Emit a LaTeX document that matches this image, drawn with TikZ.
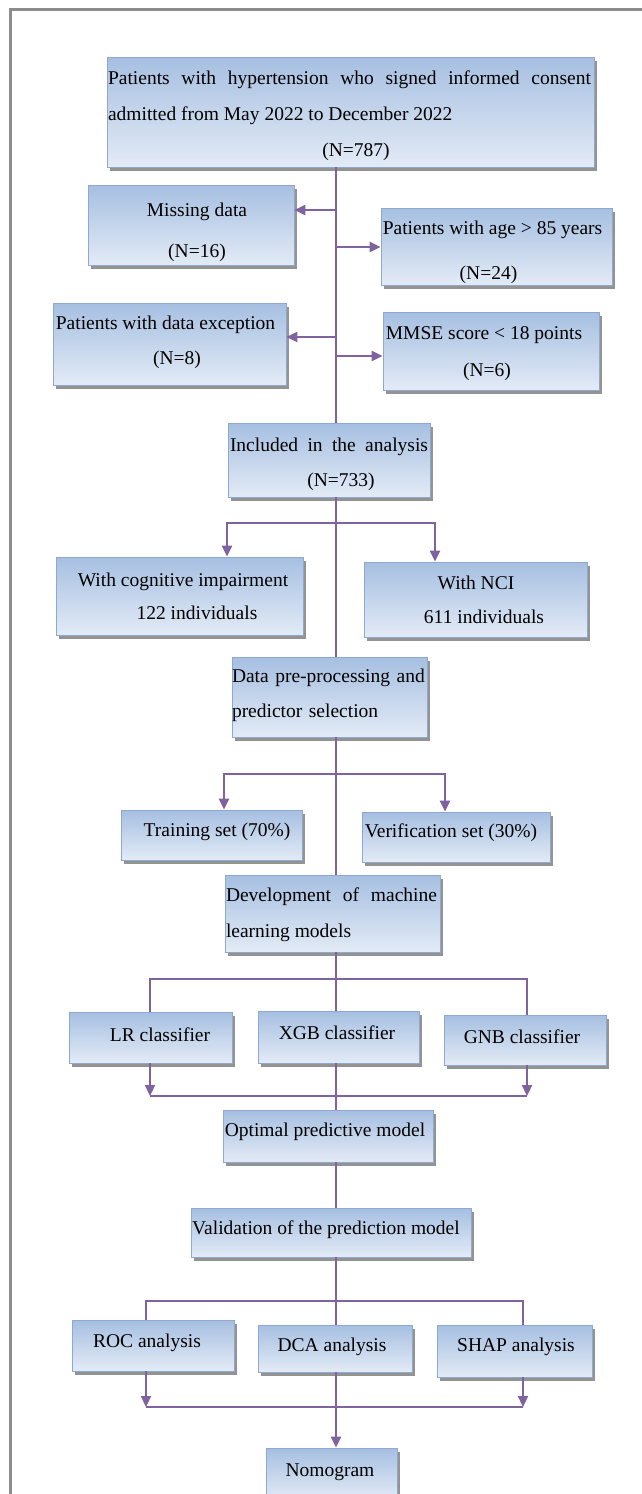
\documentclass[tikz,border=0pt]{standalone}
\usepackage{fontspec}
\setmainfont{Liberation Serif}
\usetikzlibrary{arrows.meta,shadows}
\definecolor{boxtop}{HTML}{A6BFE1}
\definecolor{boxmid}{HTML}{CDDBEE}
\definecolor{boxbot}{HTML}{E3EBF6}
\definecolor{boxline}{HTML}{8EA9CF}
\definecolor{linkcol}{HTML}{7F63A1}
\definecolor{framegray}{HTML}{8C8C8C}
\newcommand\fs[1]{\fontsize{19.5}{#1}\selectfont}
\begin{document}
\begin{tikzpicture}[x=1pt,y=-1pt,
  box/.style={draw=boxline, line width=0.8pt, top color=boxtop, middle color=boxmid, bottom color=boxbot, inner sep=0pt,
    drop shadow={shadow xshift=3pt, shadow yshift=-3.5pt, fill=black!50, opacity=0.85}},
  every label/.style={inner sep=0pt, align=center, font=\fs{36}, text=black},
  conn/.style={draw=linkcol, line width=2.2pt},
  arr/.style={conn, -{Triangle[length=11pt,width=10pt]}},
]
\useasboundingbox (0,0) rectangle (641,1494);
\draw[framegray, line width=2.4pt] (10.5,1510) -- (10.5,9.5) -- (660,9.5);
\coordinate (cx) at (336,0);

% boxes
\node[box, minimum width=487pt, minimum height=110pt,
  label={[xshift=-1pt, yshift=-4pt]center:{\parbox{483pt}{\fs{36}\makebox[483pt][s]{Patients with hypertension who signed informed consent}\\admitted from May 2022 to December 2022\\\makebox[483pt]{\hspace*{13pt}(N=787)}}}}] (top) at (350.5,112) {};
\node[box, minimum width=206pt, minimum height=80pt,
  label={[xshift=6pt, yshift=-7.5pt, font=\fs{41}]center:{Missing data\\(N=16)}}] (miss) at (191,225) {};
\node[box, minimum width=231pt, minimum height=77pt,
  label={[xshift=-4pt, yshift=-6pt, font=\fs{45}]center:{Patients with age > 85 years\\\hspace*{-8pt}(N=24)}}] (age) at (496.5,246.5) {};
\node[box, minimum width=233pt, minimum height=82pt,
  label={[xshift=-4pt, yshift=1.5pt, font=\fs{35}]center:{Patients with data exception\\\hspace*{23pt}(N=8)}}] (exc) at (169.5,344) {};
\node[box, minimum width=216pt, minimum height=78pt,
  label={[xshift=-7pt, yshift=-2.5pt, font=\fs{37}]center:{MMSE score < 18 points\\\hspace*{6pt}(N=6)}}] (mmse) at (491,351) {};
\node[box, minimum width=202pt, minimum height=74pt,
  label={[yshift=-4.5pt, font=\fs{35}]center:{\makebox[198pt][s]{Included in the analysis}\\\hspace*{24pt}(N=733)}}] (inc) at (329,460) {};
\node[box, minimum width=247pt, minimum height=78pt,
  label={[xshift=3.5pt, yshift=-0.5pt, font=\fs{33}]center:{With cognitive impairment\\\hspace*{28pt}122 individuals}}] (cog) at (179.5,596) {};
\node[box, minimum width=223pt, minimum height=75pt,
  label={[xshift=8.5pt, yshift=-0.5pt, font=\fs{34}]center:{\hspace*{-16pt}With NCI\\611 individuals}}] (nci) at (475.5,599.5) {};
\node[box, minimum width=195pt, minimum height=80pt,
  label={[yshift=1.5pt, font=\fs{35}, text width=195pt, align=left]center:{Data pre-processing and\\predictor selection}}] (pre) at (329.5,697) {};
\node[box, minimum width=181pt, minimum height=50pt,
  label={[xshift=5.5pt, yshift=3pt]center:{Training set (70\%)}}] (train) at (211.5,835) {};
\node[box, minimum width=188pt, minimum height=50pt,
  label={[xshift=-5pt, yshift=4pt]center:{Verification set (30\%)}}] (ver) at (456,837) {};
\node[box, minimum width=215pt, minimum height=77pt,
  label={[xshift=-1pt, yshift=-1.5pt]center:{\parbox{211pt}{\fs{36}\makebox[211pt][s]{Development of machine}\\learning models}}}] (dev) at (332.5,913.5) {};
\node[box, minimum width=163pt, minimum height=51pt,
  label={[xshift=9.5pt, yshift=2.5pt]center:{LR classifier}}] (lr) at (150.5,1037.5) {};
\node[box, minimum width=161pt, minimum height=52pt,
  label={[xshift=-1.5pt, yshift=4pt]center:{XGB classifier}}] (xgb) at (338.5,1037) {};
\node[box, minimum width=162pt, minimum height=50pt,
  label={[xshift=-3pt, yshift=3pt]center:{GNB classifier}}] (gnb) at (525,1040) {};
\node[box, minimum width=210pt, minimum height=52pt,
  label={[xshift=-3pt, yshift=4pt]center:{Optimal predictive model}}] (opt) at (328,1136) {};
\node[box, minimum width=280pt, minimum height=49pt,
  label={[xshift=-5pt, yshift=2.5pt]center:{Validation of the prediction model}}] (val) at (331,1232.5) {};
\node[box, minimum width=162pt, minimum height=51pt,
  label={[xshift=-6pt, yshift=2.5pt]center:{ROC analysis}}] (roc) at (153,1345.5) {};
\node[box, minimum width=154pt, minimum height=47pt,
  label={[xshift=-3pt, yshift=1.5pt]center:{DCA analysis}}] (dca) at (335,1348.5) {};
\node[box, minimum width=155pt, minimum height=52pt,
  label={[xshift=1.5pt, yshift=4pt]center:{SHAP analysis}}] (shap) at (514.5,1351) {};
\node[box, minimum width=131pt, minimum height=52pt,
  label={[xshift=-1.5pt, yshift=2pt]center:{Nomogram}}] (nom) at (331.5,1474) {};

% connectors
\draw[conn] (top.south -| cx) -- (inc.north -| cx);
\coordinate (j1) at (336,210);
\coordinate (j2) at (336,247);
\coordinate (j3) at (336,337);
\coordinate (j4) at (336,356);
\draw[arr] (j1) -- (miss.east |- j1);
\draw[arr] (j2) -- (age.west |- j2);
\draw[arr] (j3) -- (exc.east |- j3);
\draw[arr] (j4) -- (mmse.west |- j4);

\draw[conn] (inc.south -| cx) -- (pre.north -| cx);
\coordinate (b1m) at (336,523);
\coordinate (b1l) at (227,523);
\coordinate (b1r) at (435,523);
\draw[arr] (b1m) -- (b1l) -- (cog.north -| b1l);
\draw[arr] (b1m) -- (b1r) -- (nci.north -| b1r);

\draw[conn] (pre.south -| cx) -- (dev.north -| cx);
\coordinate (b2m) at (336,774);
\coordinate (b2l) at (224,774);
\coordinate (b2r) at (445,774);
\draw[arr] (b2m) -- (b2l) -- (train.north -| b2l);
\draw[arr] (b2m) -- (b2r) -- (ver.north -| b2r);

\draw[conn] (dev.south -| cx) -- (xgb.north -| cx);
\coordinate (b3l) at (150,979);
\coordinate (b3r) at (527,979);
\draw[conn] (lr.north -| b3l) -- (b3l) -- (b3r) -- (gnb.north -| b3r);
\coordinate (m3l) at (150,1096);
\coordinate (m3r) at (527,1096);
\draw[conn] (m3l) -- (m3r);
\draw[arr] (lr.south -| m3l) -- (m3l);
\draw[arr] (gnb.south -| m3r) -- (m3r);
\draw[conn] (xgb.south -| cx) -- (opt.north -| cx);

\draw[conn] (opt.south -| cx) -- (val.north -| cx);
\draw[conn] (val.south -| cx) -- (dca.north -| cx);
\coordinate (b5l) at (146,1301);
\coordinate (b5r) at (523,1301);
\draw[conn] (roc.north -| b5l) -- (b5l) -- (b5r) -- (shap.north -| b5r);
\coordinate (m5l) at (146,1407);
\coordinate (m5r) at (523,1407);
\draw[conn] (m5l) -- (m5r);
\draw[arr] (roc.south -| m5l) -- (m5l);
\draw[arr] (shap.south -| m5r) -- (m5r);
\draw[arr] (dca.south -| cx) -- (nom.north -| cx);
\end{tikzpicture}
\end{document}
